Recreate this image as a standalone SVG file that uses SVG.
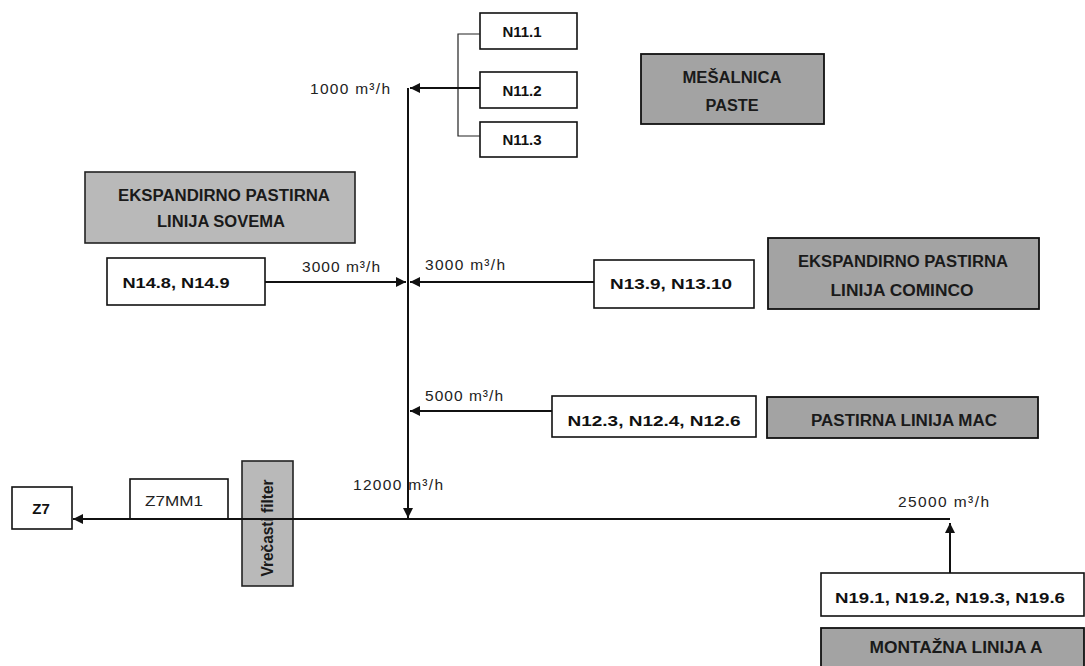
<svg xmlns="http://www.w3.org/2000/svg" width="1085" height="666" viewBox="0 0 1085 666">
  <style>
    .box { fill: #ffffff; stroke: #111; stroke-width: 1.6; }
    .dark { fill: #a3a3a3; stroke: #111; stroke-width: 1.8; }
    .light { fill: #b9b9b9; stroke: #222; stroke-width: 1.6; }
    .nt { font-family: "Liberation Sans", Arial, sans-serif; font-weight: bold; font-size: 15px; fill: #111; }
    .gt { font-family: "Liberation Sans", Arial, sans-serif; font-weight: bold; font-size: 16px; fill: #1a1a1a; }
    .fl { font-family: "Liberation Sans", Arial, sans-serif; font-size: 15.5px; fill: #222; }
    .ln { fill: none; stroke: #111; stroke-width: 2; }
    .thin { fill: none; stroke: #222; stroke-width: 1.2; }
  </style>
  <defs>
    <marker id="arr" viewBox="0 0 10 10" refX="10" refY="5" markerWidth="6" markerHeight="5" orient="auto" markerUnits="strokeWidth">
      <path d="M0,0 L10,5 L0,10 Z" fill="#111"/>
    </marker>
  </defs>

  <g id="n11-1">
    <rect class="box" x="480" y="13" width="97" height="36"/>
    <text class="nt" x="522" y="37" text-anchor="middle">N11.1</text>
  </g>
  <g id="n11-2">
    <rect class="box" x="480" y="72" width="97" height="36"/>
    <text class="nt" x="522" y="96" text-anchor="middle">N11.2</text>
  </g>
  <g id="n11-3">
    <rect class="box" x="480" y="122" width="97" height="35"/>
    <text class="nt" x="522" y="145" text-anchor="middle">N11.3</text>
  </g>

  <g id="mesalnica">
    <rect class="dark" x="641" y="54" width="183" height="70"/>
    <text class="gt" x="732" y="83" text-anchor="middle" textLength="99" lengthAdjust="spacingAndGlyphs">MEŠALNICA</text>
    <text class="gt" x="732" y="111" text-anchor="middle" textLength="53" lengthAdjust="spacingAndGlyphs">PASTE</text>
  </g>

  <g id="sovema">
    <rect class="light" x="85" y="172" width="270" height="71"/>
    <text class="gt" x="224" y="201" text-anchor="middle" textLength="212" lengthAdjust="spacingAndGlyphs">EKSPANDIRNO PASTIRNA</text>
    <text class="gt" x="221" y="227" text-anchor="middle" textLength="128" lengthAdjust="spacingAndGlyphs">LINIJA SOVEMA</text>
  </g>

  <g id="n14">
    <rect class="box" x="107" y="258" width="158" height="47"/>
    <text class="nt" x="176" y="288" text-anchor="middle" textLength="107" lengthAdjust="spacingAndGlyphs">N14.8, N14.9</text>
  </g>

  <g id="n13">
    <rect class="box" x="594" y="260" width="160" height="48"/>
    <text class="nt" x="671" y="289" text-anchor="middle" textLength="122" lengthAdjust="spacingAndGlyphs">N13.9, N13.10</text>
  </g>

  <g id="cominco">
    <rect class="dark" x="768" y="238" width="271" height="71"/>
    <text class="gt" x="903" y="267" text-anchor="middle" textLength="210" lengthAdjust="spacingAndGlyphs">EKSPANDIRNO PASTIRNA</text>
    <text class="gt" x="902" y="296" text-anchor="middle" textLength="143" lengthAdjust="spacingAndGlyphs">LINIJA COMINCO</text>
  </g>

  <g id="n12">
    <rect class="box" x="552" y="396" width="204" height="41"/>
    <text class="nt" x="654" y="426" text-anchor="middle" font-size="17" textLength="173" lengthAdjust="spacingAndGlyphs">N12.3, N12.4, N12.6</text>
  </g>

  <g id="mac">
    <rect class="dark" x="767" y="397" width="271" height="41"/>
    <text class="gt" x="904" y="426" text-anchor="middle" textLength="186" lengthAdjust="spacingAndGlyphs">PASTIRNA LINIJA MAC</text>
  </g>

  <g id="z7">
    <rect class="box" x="12" y="487" width="60" height="42"/>
    <text class="nt" x="41" y="514" text-anchor="middle" font-size="16">Z7</text>
  </g>

  <g id="z7mm1">
    <rect class="box" x="130" y="479" width="98" height="40"/>
    <text class="fl" x="174" y="506" text-anchor="middle" font-size="15" textLength="58" lengthAdjust="spacingAndGlyphs">Z7MM1</text>
  </g>

  <g id="filter">
    <rect class="light" x="242" y="461" width="51" height="125"/>
    <text class="gt" x="0" y="0" font-size="14" text-anchor="middle" transform="translate(273,528) rotate(-90)" textLength="97" lengthAdjust="spacingAndGlyphs">Vrečasti filter</text>
  </g>

  <g id="n19">
    <rect class="box" x="821" y="573" width="263" height="43"/>
    <text class="nt" x="950" y="603" text-anchor="middle" font-size="16" textLength="230" lengthAdjust="spacingAndGlyphs">N19.1, N19.2, N19.3, N19.6</text>
  </g>

  <g id="montazna">
    <rect class="dark" x="821" y="628" width="263" height="44"/>
    <text class="gt" x="956" y="653" text-anchor="middle" textLength="173" lengthAdjust="spacingAndGlyphs">MONTAŽNA LINIJA A</text>
  </g>

  <g id="connectors">
    <polyline class="thin" points="480,34 458,34 458,136 480,136"/>
    <line class="ln" x1="480" y1="88" x2="410" y2="88" marker-end="url(#arr)"/>
    <line class="ln" x1="408" y1="88" x2="408" y2="518" marker-end="url(#arr)"/>
    <line class="ln" x1="265" y1="282" x2="406" y2="282" marker-end="url(#arr)"/>
    <line class="ln" x1="594" y1="282" x2="410" y2="282" marker-end="url(#arr)"/>
    <line class="ln" x1="552" y1="411" x2="410" y2="411" marker-end="url(#arr)"/>
    <line class="ln" x1="950" y1="519" x2="73" y2="519" marker-end="url(#arr)"/>
    <line class="ln" x1="950" y1="573" x2="950" y2="523" marker-end="url(#arr)"/>
    <text class="fl" x="310" y="94" textLength="80">1000 m³/h</text>
    <text class="fl" x="302" y="272" textLength="78">3000 m³/h</text>
    <text class="fl" x="425" y="270" textLength="80">3000 m³/h</text>
    <text class="fl" x="425" y="401" textLength="78">5000 m³/h</text>
    <text class="fl" x="353" y="490" textLength="90">12000 m³/h</text>
    <text class="fl" x="898" y="507" textLength="91">25000 m³/h</text>
  </g>
</svg>
